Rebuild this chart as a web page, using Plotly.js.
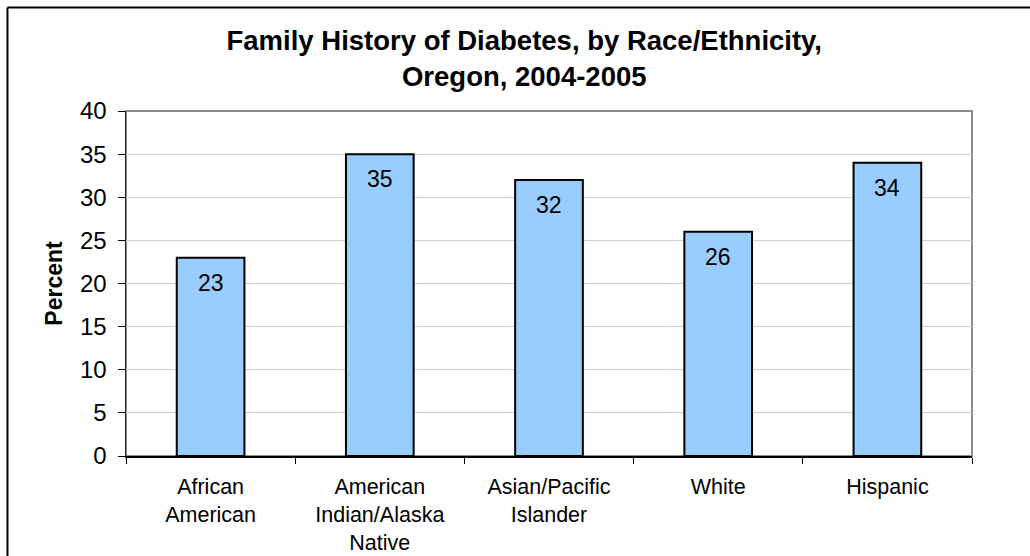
<!DOCTYPE html>
<html>
<head>
<meta charset="utf-8">
<script src="https://cdn.plot.ly/plotly-3.0.1.min.js"></script>
<style>
html,body{margin:0;padding:0;background:#fff;}
#chart{width:1030px;height:556px;}
</style>
</head>
<body>
<div id="chart"></div>
<script>
var categories = ["African<br>American", "American<br>Indian/Alaska<br>Native", "Asian/Pacific<br>Islander", "White", "Hispanic"];
var percents = [23, 35, 32, 26, 34];
var yTicks = [0, 5, 10, 15, 20, 25, 30, 35, 40];
var chartTitle = "Family History of Diabetes, by Race/Ethnicity,<br>Oregon, 2004-2005";
var yTitle = "Percent";

var FONT = "'Liberation Sans', Arial, sans-serif";

var trace = {
  type: "bar",
  x: categories,
  y: percents,
  marker: {color: "#99CCFF", line: {color: "#000000", width: 2}},
  hoverinfo: "none"
};

var annotations = categories.map(function (c, i) {
  return {
    x: c, y: percents[i], xref: "x", yref: "y",
    text: String(percents[i]), showarrow: false,
    yanchor: "middle", yshift: -25,
    font: {family: FONT, size: 23, color: "#000"}
  };
});

var layout = {
  width: 1030, height: 556,
  margin: {l: 126, r: 58, t: 111, b: 100, pad: 0},
  paper_bgcolor: "#ffffff", plot_bgcolor: "#ffffff",
  showlegend: false,
  bargap: 0.6,
  font: {family: FONT, color: "#000"},
  title: {
    text: chartTitle,
    font: {family: FONT, size: 27.5, color: "#000", weight: "bold"},
    xref: "container", yref: "container",
    x: 0.509, xanchor: "center",
    y: 0.91, yanchor: "top"
  },
  xaxis: {
    type: "category",
    showline: true, linecolor: "#000", linewidth: 1.5,
    ticks: "outside", ticklen: 6, tickcolor: "#000", tickwidth: 1,
    tickson: "boundaries",
    showgrid: false, zeroline: false,
    tickfont: {family: FONT, size: 21.5, color: "#000"},
    ticklabelstandoff: 11,
    fixedrange: true
  },
  yaxis: {
    range: [0, 40],
    tickvals: yTicks,
    showline: true, linecolor: "#222", linewidth: 1.5,
    ticks: "outside", ticklen: 7, tickcolor: "#000", tickwidth: 1,
    showgrid: true, gridcolor: "#cfcfcf", gridwidth: 1,
    zeroline: false,
    tickfont: {family: FONT, size: 24, color: "#000"},
    ticklabelstandoff: 6,
    title: {text: yTitle, font: {family: FONT, size: 23, color: "#000", weight: "bold"}, standoff: 11},
    fixedrange: true
  },
  shapes: [
    {type: "rect", xref: "paper", yref: "paper", x0: 0, x1: 1, y0: 0, y1: 1,
     line: {color: "#8c8c8c", width: 2}, layer: "below"},
    {type: "line", xref: "paper", yref: "paper", x0: -0.1401, x1: -0.1401, y0: -0.35, y1: 1.3,
     line: {color: "#000", width: 2}},
    {type: "line", xref: "paper", yref: "paper", x0: -0.1401, x1: 1.1, y0: 1.3, y1: 1.3,
     line: {color: "#000", width: 2}}
  ],
  annotations: annotations
};

Plotly.newPlot("chart", [trace], layout, {displayModeBar: false, staticPlot: true});
</script>
</body>
</html>
